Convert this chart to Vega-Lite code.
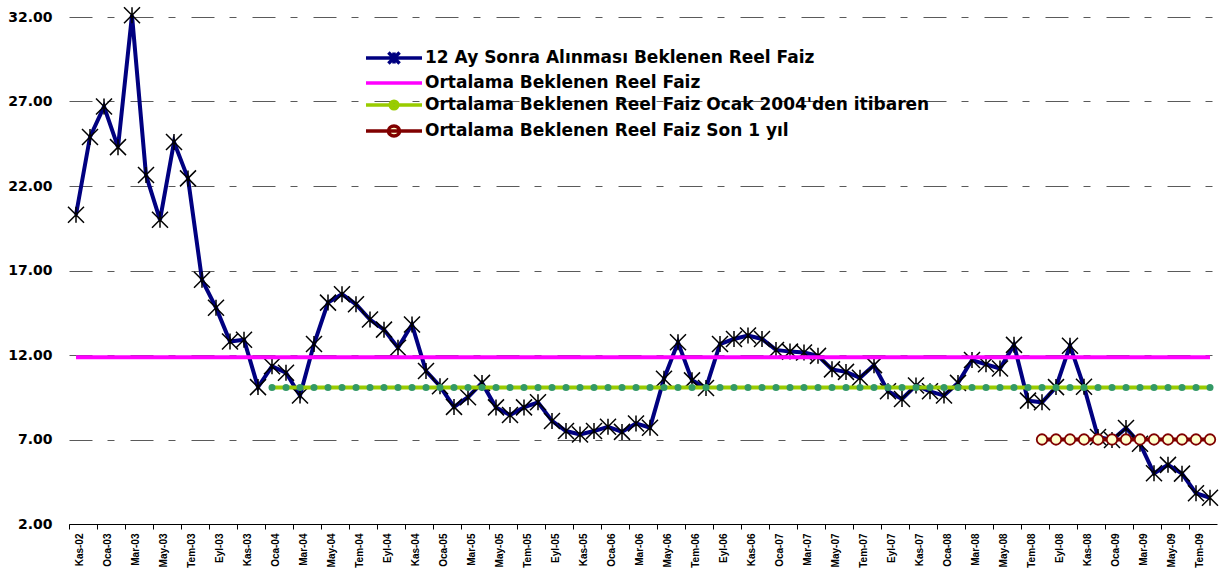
{
  "$schema": "https://vega.github.io/schema/vega-lite/v6.json",
  "autosize": {"type": "none"},
  "width": 1148,
  "height": 507,
  "padding": {"left": 69, "top": 17, "right": 3, "bottom": 46},
  "background": "white",
  "config": {"view": {"stroke": null}},
  "datasets": {
    "aylik": [
      {"ay": "Kas-02", "beklenen": 20.3, "ortalama": 11.86},
      {"ay": "Ara-02", "beklenen": 24.9, "ortalama": 11.86},
      {"ay": "Oca-03", "beklenen": 26.7, "ortalama": 11.86},
      {"ay": "Şub-03", "beklenen": 24.3, "ortalama": 11.86},
      {"ay": "Mar-03", "beklenen": 32.1, "ortalama": 11.86},
      {"ay": "Nis-03", "beklenen": 22.65, "ortalama": 11.86},
      {"ay": "May-03", "beklenen": 20.0, "ortalama": 11.86},
      {"ay": "Haz-03", "beklenen": 24.6, "ortalama": 11.86},
      {"ay": "Tem-03", "beklenen": 22.45, "ortalama": 11.86},
      {"ay": "Ağu-03", "beklenen": 16.45, "ortalama": 11.86},
      {"ay": "Eyl-03", "beklenen": 14.8, "ortalama": 11.86},
      {"ay": "Eki-03", "beklenen": 12.8, "ortalama": 11.86},
      {"ay": "Kas-03", "beklenen": 12.9, "ortalama": 11.86},
      {"ay": "Ara-03", "beklenen": 10.1, "ortalama": 11.86},
      {"ay": "Oca-04", "beklenen": 11.33, "ortalama": 11.86, "ocak2004": 10.07},
      {"ay": "Şub-04", "beklenen": 10.95, "ortalama": 11.86, "ocak2004": 10.07},
      {"ay": "Mar-04", "beklenen": 9.6, "ortalama": 11.86, "ocak2004": 10.07},
      {"ay": "Nis-04", "beklenen": 12.65, "ortalama": 11.86, "ocak2004": 10.07},
      {"ay": "May-04", "beklenen": 15.1, "ortalama": 11.86, "ocak2004": 10.07},
      {"ay": "Haz-04", "beklenen": 15.6, "ortalama": 11.86, "ocak2004": 10.07},
      {"ay": "Tem-04", "beklenen": 15.0, "ortalama": 11.86, "ocak2004": 10.07},
      {"ay": "Ağu-04", "beklenen": 14.1, "ortalama": 11.86, "ocak2004": 10.07},
      {"ay": "Eyl-04", "beklenen": 13.5, "ortalama": 11.86, "ocak2004": 10.07},
      {"ay": "Eki-04", "beklenen": 12.43, "ortalama": 11.86, "ocak2004": 10.07},
      {"ay": "Kas-04", "beklenen": 13.8, "ortalama": 11.86, "ocak2004": 10.07},
      {"ay": "Ara-04", "beklenen": 11.05, "ortalama": 11.86, "ocak2004": 10.07},
      {"ay": "Oca-05", "beklenen": 10.15, "ortalama": 11.86, "ocak2004": 10.07},
      {"ay": "Şub-05", "beklenen": 8.93, "ortalama": 11.86, "ocak2004": 10.07},
      {"ay": "Mar-05", "beklenen": 9.5, "ortalama": 11.86, "ocak2004": 10.07},
      {"ay": "Nis-05", "beklenen": 10.35, "ortalama": 11.86, "ocak2004": 10.07},
      {"ay": "May-05", "beklenen": 8.9, "ortalama": 11.86, "ocak2004": 10.07},
      {"ay": "Haz-05", "beklenen": 8.45, "ortalama": 11.86, "ocak2004": 10.07},
      {"ay": "Tem-05", "beklenen": 8.9, "ortalama": 11.86, "ocak2004": 10.07},
      {"ay": "Ağu-05", "beklenen": 9.2, "ortalama": 11.86, "ocak2004": 10.07},
      {"ay": "Eyl-05", "beklenen": 8.1, "ortalama": 11.86, "ocak2004": 10.07},
      {"ay": "Eki-05", "beklenen": 7.5, "ortalama": 11.86, "ocak2004": 10.07},
      {"ay": "Kas-05", "beklenen": 7.3, "ortalama": 11.86, "ocak2004": 10.07},
      {"ay": "Ara-05", "beklenen": 7.5, "ortalama": 11.86, "ocak2004": 10.07},
      {"ay": "Oca-06", "beklenen": 7.75, "ortalama": 11.86, "ocak2004": 10.07},
      {"ay": "Şub-06", "beklenen": 7.45, "ortalama": 11.86, "ocak2004": 10.07},
      {"ay": "Mar-06", "beklenen": 7.95, "ortalama": 11.86, "ocak2004": 10.07},
      {"ay": "Nis-06", "beklenen": 7.7, "ortalama": 11.86, "ocak2004": 10.07},
      {"ay": "May-06", "beklenen": 10.6, "ortalama": 11.86, "ocak2004": 10.07},
      {"ay": "Haz-06", "beklenen": 12.75, "ortalama": 11.86, "ocak2004": 10.07},
      {"ay": "Tem-06", "beklenen": 10.5, "ortalama": 11.86, "ocak2004": 10.07},
      {"ay": "Ağu-06", "beklenen": 10.05, "ortalama": 11.86, "ocak2004": 10.07},
      {"ay": "Eyl-06", "beklenen": 12.65, "ortalama": 11.86, "ocak2004": 10.07},
      {"ay": "Eki-06", "beklenen": 12.95, "ortalama": 11.86, "ocak2004": 10.07},
      {"ay": "Kas-06", "beklenen": 13.15, "ortalama": 11.86, "ocak2004": 10.07},
      {"ay": "Ara-06", "beklenen": 12.95, "ortalama": 11.86, "ocak2004": 10.07},
      {"ay": "Oca-07", "beklenen": 12.3, "ortalama": 11.86, "ocak2004": 10.07},
      {"ay": "Şub-07", "beklenen": 12.2, "ortalama": 11.86, "ocak2004": 10.07},
      {"ay": "Mar-07", "beklenen": 12.15, "ortalama": 11.86, "ocak2004": 10.07},
      {"ay": "Nis-07", "beklenen": 11.95, "ortalama": 11.86, "ocak2004": 10.07},
      {"ay": "May-07", "beklenen": 11.15, "ortalama": 11.86, "ocak2004": 10.07},
      {"ay": "Haz-07", "beklenen": 11.0, "ortalama": 11.86, "ocak2004": 10.07},
      {"ay": "Tem-07", "beklenen": 10.65, "ortalama": 11.86, "ocak2004": 10.07},
      {"ay": "Ağu-07", "beklenen": 11.4, "ortalama": 11.86, "ocak2004": 10.07},
      {"ay": "Eyl-07", "beklenen": 9.85, "ortalama": 11.86, "ocak2004": 10.07},
      {"ay": "Eki-07", "beklenen": 9.4, "ortalama": 11.86, "ocak2004": 10.07},
      {"ay": "Kas-07", "beklenen": 10.2, "ortalama": 11.86, "ocak2004": 10.07},
      {"ay": "Ara-07", "beklenen": 9.85, "ortalama": 11.86, "ocak2004": 10.07},
      {"ay": "Oca-08", "beklenen": 9.6, "ortalama": 11.86, "ocak2004": 10.07},
      {"ay": "Şub-08", "beklenen": 10.35, "ortalama": 11.86, "ocak2004": 10.07},
      {"ay": "Mar-08", "beklenen": 11.7, "ortalama": 11.86, "ocak2004": 10.07},
      {"ay": "Nis-08", "beklenen": 11.45, "ortalama": 11.86, "ocak2004": 10.07},
      {"ay": "May-08", "beklenen": 11.2, "ortalama": 11.86, "ocak2004": 10.07},
      {"ay": "Haz-08", "beklenen": 12.6, "ortalama": 11.86, "ocak2004": 10.07},
      {"ay": "Tem-08", "beklenen": 9.3, "ortalama": 11.86, "ocak2004": 10.07},
      {"ay": "Ağu-08", "beklenen": 9.2, "ortalama": 11.86, "ocak2004": 10.07, "sonyil": 7.0},
      {"ay": "Eyl-08", "beklenen": 10.1, "ortalama": 11.86, "ocak2004": 10.07, "sonyil": 7.0},
      {"ay": "Eki-08", "beklenen": 12.55, "ortalama": 11.86, "ocak2004": 10.07, "sonyil": 7.0},
      {"ay": "Kas-08", "beklenen": 10.12, "ortalama": 11.86, "ocak2004": 10.07, "sonyil": 7.0},
      {"ay": "Ara-08", "beklenen": 7.15, "ortalama": 11.86, "ocak2004": 10.07, "sonyil": 7.0},
      {"ay": "Oca-09", "beklenen": 6.97, "ortalama": 11.86, "ocak2004": 10.07, "sonyil": 7.0},
      {"ay": "Şub-09", "beklenen": 7.68, "ortalama": 11.86, "ocak2004": 10.07, "sonyil": 7.0},
      {"ay": "Mar-09", "beklenen": 6.75, "ortalama": 11.86, "ocak2004": 10.07, "sonyil": 7.0},
      {"ay": "Nis-09", "beklenen": 5.0, "ortalama": 11.86, "ocak2004": 10.07, "sonyil": 7.0},
      {"ay": "May-09", "beklenen": 5.5, "ortalama": 11.86, "ocak2004": 10.07, "sonyil": 7.0},
      {"ay": "Haz-09", "beklenen": 4.98, "ortalama": 11.86, "ocak2004": 10.07, "sonyil": 7.0},
      {"ay": "Tem-09", "beklenen": 3.82, "ortalama": 11.86, "ocak2004": 10.07, "sonyil": 7.0},
      {"ay": "Ağu-09", "beklenen": 3.55, "ortalama": 11.86, "ocak2004": 10.07, "sonyil": 7.0}
    ],
    "seriler": [
      {"seri": "12 Ay Sonra Alınması Beklenen Reel Faiz"},
      {"seri": "Ortalama Beklenen Reel Faiz"},
      {"seri": "Ortalama Beklenen Reel Faiz Ocak 2004'den itibaren"},
      {"seri": "Ortalama Beklenen Reel Faiz Son 1 yıl"}
    ]
  },
  "layer": [
    {
      "data": {"name": "aylik"},
      "encoding": {
        "x": {
          "field": "ay",
          "type": "ordinal",
          "sort": null,
          "scale": {
            "type": "band",
            "paddingInner": 0,
            "paddingOuter": 0,
            "domain": ["Kas-02","Ara-02","Oca-03","Şub-03","Mar-03","Nis-03","May-03","Haz-03","Tem-03","Ağu-03","Eyl-03","Eki-03","Kas-03","Ara-03","Oca-04","Şub-04","Mar-04","Nis-04","May-04","Haz-04","Tem-04","Ağu-04","Eyl-04","Eki-04","Kas-04","Ara-04","Oca-05","Şub-05","Mar-05","Nis-05","May-05","Haz-05","Tem-05","Ağu-05","Eyl-05","Eki-05","Kas-05","Ara-05","Oca-06","Şub-06","Mar-06","Nis-06","May-06","Haz-06","Tem-06","Ağu-06","Eyl-06","Eki-06","Kas-06","Ara-06","Oca-07","Şub-07","Mar-07","Nis-07","May-07","Haz-07","Tem-07","Ağu-07","Eyl-07","Eki-07","Kas-07","Ara-07","Oca-08","Şub-08","Mar-08","Nis-08","May-08","Haz-08","Tem-08","Ağu-08","Eyl-08","Eki-08","Kas-08","Ara-08","Oca-09","Şub-09","Mar-09","Nis-09","May-09","Haz-09","Tem-09","Ağu-09"]
          },
          "axis": {
            "title": null,
            "values": ["Kas-02","Oca-03","Mar-03","May-03","Tem-03","Eyl-03","Kas-03","Oca-04","Mar-04","May-04","Tem-04","Eyl-04","Kas-04","Oca-05","Mar-05","May-05","Tem-05","Eyl-05","Kas-05","Oca-06","Mar-06","May-06","Tem-06","Eyl-06","Kas-06","Oca-07","Mar-07","May-07","Tem-07","Eyl-07","Kas-07","Oca-08","Mar-08","May-08","Tem-08","Eyl-08","Kas-08","Oca-09","Mar-09","May-09","Tem-09"],
            "bandPosition": 0,
            "labelAngle": 270,
            "labelOffset": 4,
            "labelPadding": 4,
            "labelFont": "Liberation Sans",
            "labelFontSize": 10,
            "labelFontWeight": "bold",
            "labelColor": "black",
            "labelOverlap": false,
            "labelBound": false,
            "tickSize": 5,
            "tickColor": "black",
            "domainColor": "black",
            "domainWidth": 1,
            "grid": false
          }
        },
        "y": {
          "type": "quantitative",
          "scale": {"domain": [2, 32], "nice": false, "zero": false},
          "axis": {
            "title": null,
            "values": [2, 7, 12, 17, 22, 27, 32],
            "format": ".2f",
            "labelFont": "DejaVu Sans",
            "labelFontSize": 14,
            "labelFontWeight": "bold",
            "labelColor": "black",
            "labelPadding": 17,
            "ticks": false,
            "domain": false,
            "grid": true,
            "gridColor": "#5a5a5a",
            "gridWidth": 1,
            "gridDash": [23, 15, 7, 16]
          }
        }
      },
      "layer": [
        {
          "mark": {"type": "line", "stroke": "#000080", "strokeWidth": 4},
          "encoding": {"y": {"field": "beklenen", "type": "quantitative"}}
        },
        {
          "mark": {"type": "point", "shape": "M-1,-1L1,1M-1,1L1,-1M0,-1L0,1", "filled": false, "stroke": "black", "strokeWidth": 1.5, "size": 256, "opacity": 1},
          "encoding": {"y": {"field": "beklenen", "type": "quantitative"}}
        },
        {
          "mark": {"type": "line", "stroke": "#FF00FF", "strokeWidth": 4},
          "encoding": {"y": {"field": "ortalama", "type": "quantitative"}}
        },
        {
          "mark": {"type": "line", "stroke": "#99CC00", "strokeWidth": 4},
          "encoding": {"y": {"field": "ocak2004", "type": "quantitative"}}
        },
        {
          "mark": {"type": "point", "shape": "circle", "filled": true, "fill": "#339966", "strokeWidth": 0, "size": 49, "opacity": 1},
          "encoding": {"y": {"field": "ocak2004", "type": "quantitative"}}
        },
        {
          "mark": {"type": "line", "stroke": "#800000", "strokeWidth": 4},
          "encoding": {"y": {"field": "sonyil", "type": "quantitative"}}
        },
        {
          "mark": {"type": "point", "shape": "circle", "filled": true, "fill": "#FFFFCC", "stroke": "#800000", "strokeWidth": 1.8, "size": 110, "opacity": 1},
          "encoding": {"y": {"field": "sonyil", "type": "quantitative"}}
        }
      ]
    },
    {
      "data": {"name": "seriler"},
      "mark": {"type": "point", "opacity": 0, "filled": true},
      "encoding": {
        "shape": {
          "field": "seri",
          "type": "nominal",
          "scale": {
            "domain": ["12 Ay Sonra Alınması Beklenen Reel Faiz", "Ortalama Beklenen Reel Faiz", "Ortalama Beklenen Reel Faiz Ocak 2004'den itibaren", "Ortalama Beklenen Reel Faiz Son 1 yıl"],
            "range": [
              "M-4,0L4,0M-0.8,-0.8L0.8,0.8M-0.8,0.8L0.8,-0.8M0,-0.8L0,0.8",
              "M-4,0L4,0",
              "M-4,0L4,0M0.55,0A0.55,0.55 0 1 1 -0.55,0A0.55,0.55 0 1 1 0.55,0Z",
              "M-4,0L4,0M0.8,0A0.8,0.7 0 1 1 -0.8,0A0.8,0.7 0 1 1 0.8,0Z"
            ]
          },
          "legend": {
            "title": null,
            "orient": "none",
            "legendX": 316,
            "legendY": 32,
            "padding": 0,
            "symbolSize": 196,
            "symbolStrokeWidth": 3.5,
            "symbolOpacity": 1,
            "labelOffset": 22,
            "labelFont": "DejaVu Sans",
            "labelFontSize": 17,
            "labelFontWeight": "bold",
            "labelColor": "black",
            "labelLimit": 1000,
            "rowPadding": 3
          }
        },
        "stroke": {
          "field": "seri",
          "type": "nominal",
          "scale": {
            "domain": ["12 Ay Sonra Alınması Beklenen Reel Faiz", "Ortalama Beklenen Reel Faiz", "Ortalama Beklenen Reel Faiz Ocak 2004'den itibaren", "Ortalama Beklenen Reel Faiz Son 1 yıl"],
            "range": ["#000080", "#FF00FF", "#99CC00", "#800000"]
          }
        },
        "fill": {
          "field": "seri",
          "type": "nominal",
          "scale": {
            "domain": ["12 Ay Sonra Alınması Beklenen Reel Faiz", "Ortalama Beklenen Reel Faiz", "Ortalama Beklenen Reel Faiz Ocak 2004'den itibaren", "Ortalama Beklenen Reel Faiz Son 1 yıl"],
            "range": ["transparent", "transparent", "#339966", "#FFFFCC"]
          }
        }
      }
    }
  ]
}
